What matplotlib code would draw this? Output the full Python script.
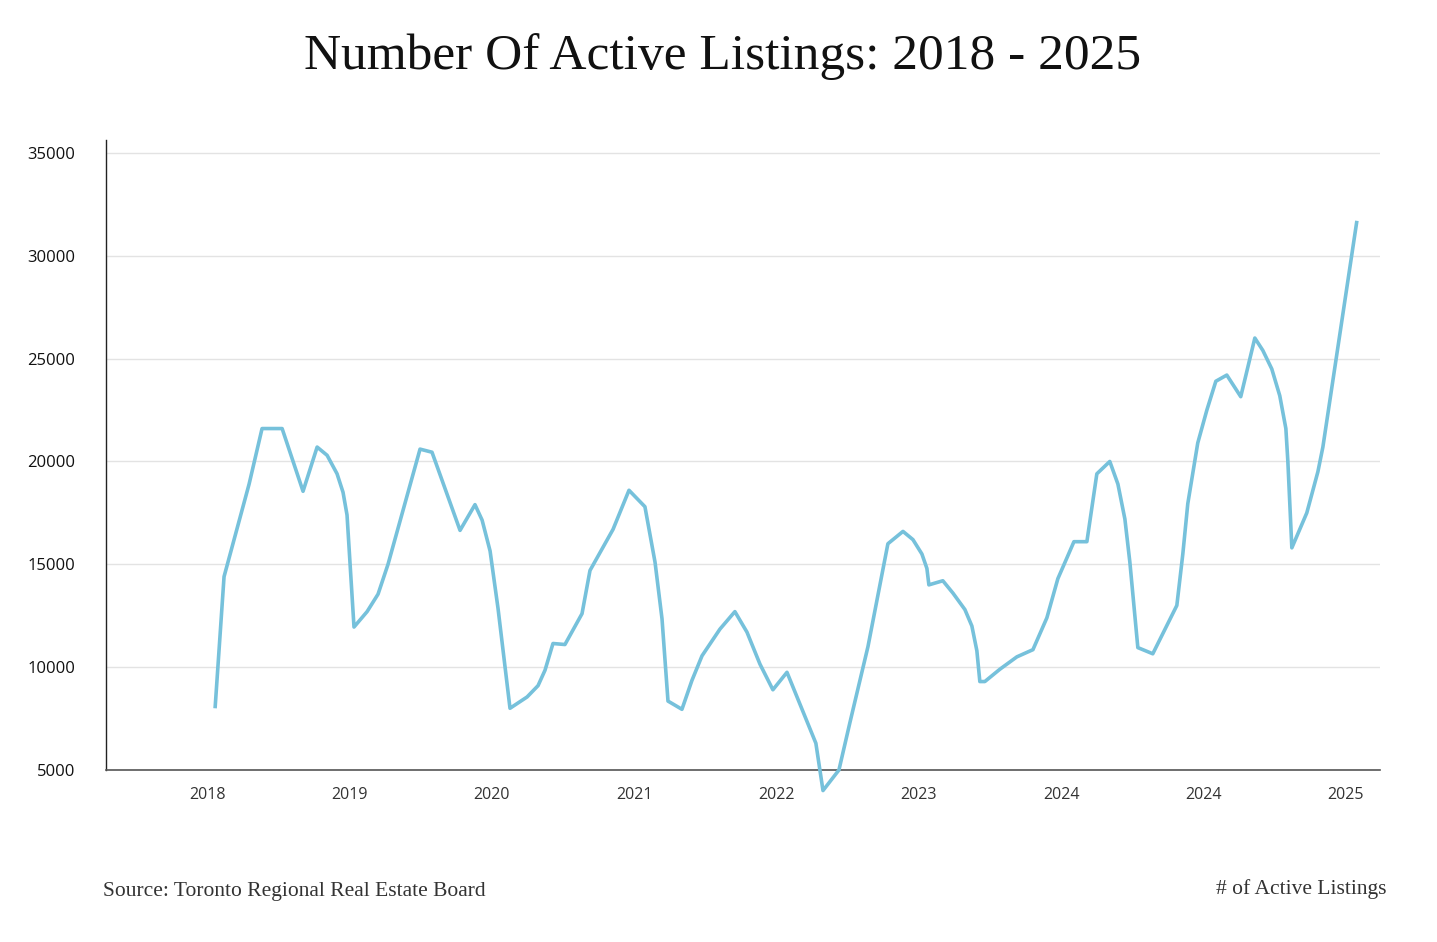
import numpy as np
import matplotlib.pyplot as plt

# Active listings.
# x is in "tick units": 0 = first 2018 label, 1 = 2019 label, ... 8 = 2025 label
period_pos = [0.056, 0.119, 0.295, 0.386, 0.527, 0.674, 0.773, 0.843, 0.913, 0.955,
              0.983, 1.032, 1.124, 1.201, 1.271, 1.496, 1.580, 1.777, 1.882, 1.932,
              1.988, 2.044, 2.128, 2.248, 2.325, 2.374, 2.430, 2.514, 2.634, 2.690,
              2.852, 2.964, 3.076, 3.147, 3.196, 3.217, 3.238, 3.336, 3.406, 3.477,
              3.603, 3.708, 3.793, 3.884, 3.975, 4.074, 4.277, 4.327, 4.439, 4.516,
              4.643, 4.783, 4.889, 4.959, 5.022, 5.057, 5.071, 5.169, 5.240, 5.324,
              5.373, 5.408, 5.429, 5.464, 5.570, 5.689, 5.802, 5.900, 5.977, 6.040,
              6.090, 6.181, 6.251, 6.342, 6.399, 6.448, 6.483, 6.539, 6.644, 6.813,
              6.855, 6.890, 6.960, 7.024, 7.087, 7.164, 7.262, 7.361, 7.417, 7.480,
              7.536, 7.579, 7.593, 7.621, 7.726, 7.804, 7.839, 8.078]
listings = [8000, 14400, 18900, 21600, 21600, 18550, 20700, 20300, 19400, 18500,
            17400, 11950, 12700, 13550, 15000, 20600, 20450, 16650, 17900, 17150,
            15650, 12850, 8000, 8550, 9100, 9850, 11150, 11100, 12600, 14700,
            16700, 18600, 17800, 15100, 12350, 10350, 8350, 7950, 9350, 10550,
            11850, 12700, 11700, 10150, 8900, 9750, 6300, 4000, 5000, 7300,
            11000, 16000, 16600, 16200, 15500, 14800, 14000, 14200, 13600, 12800,
            12000, 10800, 9300, 9300, 9900, 10500, 10850, 12400, 14300, 15300,
            16100, 16100, 19400, 20000, 18900, 17200, 15100, 10950, 10650, 13000,
            15500, 17950, 20900, 22500, 23900, 24200, 23150, 26000, 25400, 24500,
            23200, 21600, 20000, 15800, 17500, 19500, 20700, 31700]

year_labels = ['2018', '2019', '2020', '2021', '2022', '2023', '2024', '2024', '2025']
y_ticks = [5000, 10000, 15000, 20000, 25000, 30000, 35000]

line_color = '#76c1db'

fig = plt.figure(figsize=(14.37, 9.42), dpi=100)
ax = fig.add_axes([0.0738, 0.1826, 0.8865, 0.6688])

ax.plot(period_pos, listings, color=line_color, lw=2.6, clip_on=False,
        solid_joinstyle='round', solid_capstyle='butt', zorder=3)

ax.set_xlim(-0.71, 8.24)
ax.set_ylim(5000, 35630)

ax.set_xticks(range(len(year_labels)))
ax.set_xticklabels(year_labels, fontsize=11.5, color='#333333', family='Open Sans')
ax.set_yticks(y_ticks)
ax.set_yticklabels([str(v) for v in y_ticks], fontsize=12, color='#111111',
                   family='Open Sans')
ax.tick_params(axis='x', length=0, pad=12)
ax.tick_params(axis='y', length=0, pad=22)

ax.grid(axis='y', color='#e3e3e3', lw=1)
ax.set_axisbelow(True)
for side in ['top', 'right']:
    ax.spines[side].set_visible(False)
ax.spines['left'].set_color('#222222')
ax.spines['left'].set_linewidth(1)
ax.spines['bottom'].set_color('#555555')
ax.spines['bottom'].set_linewidth(1.2)

fig.text(0.503, 0.94, 'Number Of Active Listings: 2018 - 2025', ha='center', va='center',
         fontsize=37, family='Liberation Serif', color='#111111')
fig.text(0.0717, 0.054, 'Source: Toronto Regional Real Estate Board', ha='left',
         va='center', fontsize=15.5, family='Liberation Serif', color='#333333')
fig.text(0.9652, 0.056, '# of Active Listings', ha='right', va='center',
         fontsize=15.5, family='Liberation Serif', color='#333333')

fig.savefig('out.png', dpi=100)
